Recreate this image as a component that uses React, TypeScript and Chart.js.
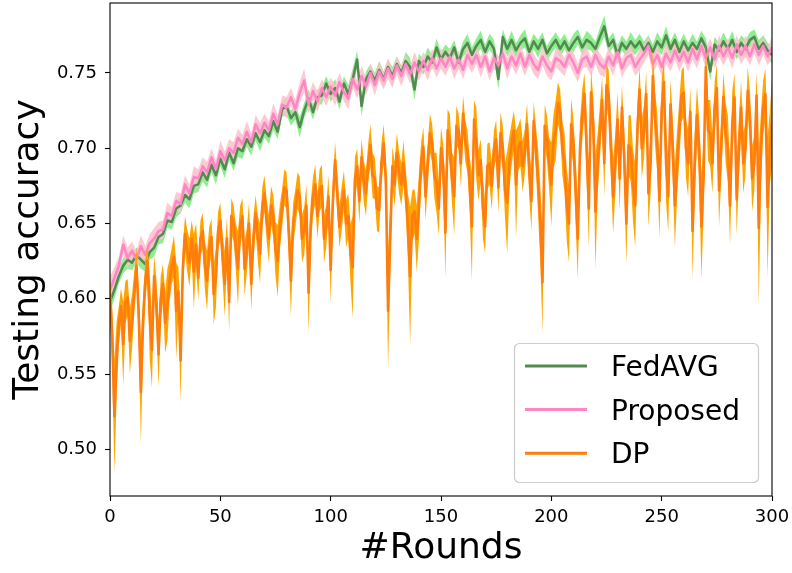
import React, { useEffect, useRef } from 'react';
import { Chart, registerables } from 'chart.js';

Chart.register(...registerables);

// ---------------- data ----------------
const roundTicks = [0, 50, 100, 150, 200, 250, 300];
const accuracyTicks = [0.5, 0.55, 0.6, 0.65, 0.7, 0.75];

// FedAVG and Proposed: one value every 2 rounds (0..300)
const baseStep = 2;
const fedavgMean = [
  0.598, 0.606, 0.615, 0.622, 0.626, 0.624, 0.629, 0.626, 0.623, 0.631,
  0.634, 0.641, 0.643, 0.652, 0.651, 0.660, 0.662, 0.669, 0.666, 0.675,
  0.676, 0.684, 0.679, 0.689, 0.682, 0.693, 0.686, 0.697, 0.690, 0.700,
  0.698, 0.706, 0.701, 0.710, 0.704, 0.712, 0.708, 0.718, 0.711, 0.726,
  0.728, 0.720, 0.724, 0.714, 0.725, 0.733, 0.724, 0.734, 0.735, 0.743,
  0.736, 0.740, 0.731, 0.743, 0.736, 0.746, 0.759, 0.728, 0.746, 0.751,
  0.745, 0.752, 0.746, 0.754, 0.748, 0.756, 0.750, 0.758, 0.754, 0.739,
  0.758, 0.754, 0.761, 0.757, 0.767, 0.759, 0.764, 0.760, 0.767, 0.757,
  0.766, 0.770, 0.762, 0.768, 0.772, 0.764, 0.771, 0.766, 0.746, 0.774,
  0.766, 0.772, 0.765, 0.770, 0.773, 0.764, 0.771, 0.766, 0.772, 0.763,
  0.768, 0.772, 0.766, 0.771, 0.765, 0.770, 0.774, 0.767, 0.772, 0.770,
  0.766, 0.774, 0.781, 0.768, 0.772, 0.762, 0.770, 0.766, 0.771, 0.767,
  0.771, 0.765, 0.770, 0.764, 0.771, 0.767, 0.775, 0.766, 0.772, 0.764,
  0.771, 0.765, 0.770, 0.766, 0.773, 0.767, 0.751, 0.769, 0.765, 0.771,
  0.766, 0.772, 0.764, 0.770, 0.766, 0.772, 0.774, 0.766, 0.770, 0.765,
  0.762,
];
const fedavgStd = [
  0.007, 0.006, 0.005, 0.005, 0.006, 0.005, 0.005, 0.006, 0.005, 0.005,
  0.006, 0.005, 0.006, 0.005, 0.005, 0.006, 0.005, 0.005, 0.006, 0.005,
  0.005, 0.006, 0.005, 0.005, 0.006, 0.005, 0.006, 0.005, 0.005, 0.006,
  0.005, 0.005, 0.006, 0.005, 0.006, 0.005, 0.005, 0.006, 0.005, 0.005,
  0.006, 0.005, 0.005, 0.007, 0.005, 0.006, 0.005, 0.005, 0.006, 0.005,
  0.005, 0.006, 0.005, 0.005, 0.006, 0.007, 0.006, 0.007, 0.005, 0.005,
  0.005, 0.006, 0.005, 0.005, 0.006, 0.005, 0.005, 0.006, 0.006, 0.007,
  0.005, 0.005, 0.006, 0.005, 0.006, 0.005, 0.005, 0.006, 0.005, 0.005,
  0.005, 0.006, 0.005, 0.005, 0.006, 0.005, 0.005, 0.006, 0.007, 0.005,
  0.005, 0.006, 0.005, 0.005, 0.006, 0.005, 0.005, 0.006, 0.005, 0.005,
  0.005, 0.005, 0.006, 0.005, 0.005, 0.006, 0.005, 0.005, 0.006, 0.005,
  0.005, 0.006, 0.007, 0.005, 0.005, 0.006, 0.005, 0.005, 0.006, 0.005,
  0.005, 0.006, 0.005, 0.005, 0.006, 0.005, 0.006, 0.005, 0.005, 0.006,
  0.005, 0.005, 0.006, 0.005, 0.005, 0.006, 0.006, 0.005, 0.005, 0.006,
  0.005, 0.006, 0.005, 0.005, 0.006, 0.005, 0.005, 0.006, 0.005, 0.005,
  0.006,
];
const proposedMean = [
  0.606, 0.614, 0.622, 0.636, 0.627, 0.632, 0.626, 0.635, 0.629, 0.637,
  0.640, 0.645, 0.646, 0.657, 0.655, 0.665, 0.663, 0.676, 0.670, 0.681,
  0.680, 0.688, 0.684, 0.694, 0.686, 0.698, 0.692, 0.700, 0.697, 0.707,
  0.703, 0.711, 0.704, 0.716, 0.710, 0.717, 0.712, 0.723, 0.716, 0.729,
  0.727, 0.734, 0.726, 0.737, 0.745, 0.729, 0.738, 0.731, 0.740, 0.734,
  0.741, 0.735, 0.744, 0.737, 0.733, 0.746, 0.739, 0.748, 0.741, 0.750,
  0.742, 0.751, 0.745, 0.753, 0.746, 0.755, 0.748, 0.756, 0.749, 0.757,
  0.751, 0.758, 0.752, 0.760, 0.753, 0.760, 0.754, 0.761, 0.753, 0.759,
  0.752, 0.762, 0.756, 0.762, 0.754, 0.761, 0.751, 0.760, 0.755, 0.763,
  0.753, 0.761, 0.755, 0.763, 0.754, 0.762, 0.756, 0.752, 0.761, 0.755,
  0.751, 0.760, 0.758, 0.754, 0.762, 0.757, 0.750, 0.759, 0.761, 0.754,
  0.762, 0.756, 0.753, 0.761, 0.755, 0.764, 0.753, 0.760, 0.762, 0.754,
  0.759, 0.763, 0.768, 0.756, 0.762, 0.754, 0.763, 0.757, 0.765, 0.758,
  0.764, 0.757, 0.766, 0.759, 0.768, 0.760, 0.767, 0.759, 0.768, 0.761,
  0.767, 0.760, 0.769, 0.762, 0.768, 0.761, 0.769, 0.762, 0.768, 0.761,
  0.767,
];
const proposedStd = [
  0.009, 0.007, 0.006, 0.006, 0.007, 0.006, 0.006, 0.007, 0.006, 0.006,
  0.007, 0.006, 0.006, 0.007, 0.006, 0.006, 0.007, 0.006, 0.006, 0.007,
  0.006, 0.006, 0.007, 0.006, 0.006, 0.007, 0.006, 0.006, 0.007, 0.006,
  0.006, 0.007, 0.006, 0.006, 0.007, 0.006, 0.006, 0.007, 0.006, 0.006,
  0.007, 0.006, 0.006, 0.007, 0.008, 0.006, 0.006, 0.007, 0.006, 0.006,
  0.006, 0.007, 0.006, 0.006, 0.007, 0.006, 0.006, 0.007, 0.006, 0.006,
  0.007, 0.006, 0.006, 0.007, 0.006, 0.006, 0.007, 0.006, 0.006, 0.007,
  0.006, 0.006, 0.007, 0.006, 0.006, 0.007, 0.006, 0.006, 0.007, 0.006,
  0.006, 0.007, 0.006, 0.006, 0.007, 0.006, 0.006, 0.007, 0.006, 0.006,
  0.007, 0.006, 0.006, 0.007, 0.006, 0.006, 0.007, 0.006, 0.006, 0.007,
  0.006, 0.006, 0.007, 0.006, 0.006, 0.007, 0.006, 0.006, 0.007, 0.006,
  0.006, 0.007, 0.006, 0.006, 0.007, 0.006, 0.006, 0.007, 0.006, 0.006,
  0.007, 0.006, 0.006, 0.007, 0.006, 0.006, 0.007, 0.006, 0.006, 0.007,
  0.006, 0.006, 0.007, 0.006, 0.006, 0.007, 0.006, 0.006, 0.007, 0.006,
  0.006, 0.007, 0.006, 0.006, 0.007, 0.006, 0.006, 0.007, 0.006, 0.006,
  0.007,
];

// DP: one value every round (0..300)
const dpStep = 1;
const dpMean = [
  0.603, 0.575, 0.522, 0.560, 0.582, 0.595, 0.570, 0.598, 0.601, 0.572,
  0.585, 0.604, 0.622, 0.590, 0.538, 0.585, 0.612, 0.625, 0.588, 0.566,
  0.615, 0.598, 0.563, 0.600, 0.610, 0.584, 0.596, 0.612, 0.622, 0.628,
  0.592, 0.605, 0.559, 0.620, 0.643, 0.632, 0.624, 0.640, 0.618, 0.636,
  0.614, 0.640, 0.645, 0.622, 0.612, 0.634, 0.641, 0.603, 0.614, 0.645,
  0.652, 0.628, 0.610, 0.640, 0.598, 0.655, 0.650, 0.635, 0.620, 0.648,
  0.655, 0.620, 0.632, 0.650, 0.610, 0.640, 0.657, 0.640, 0.630, 0.661,
  0.670, 0.652, 0.640, 0.662, 0.655, 0.633, 0.625, 0.648, 0.660, 0.674,
  0.672, 0.645, 0.612, 0.650, 0.660, 0.672, 0.668, 0.640, 0.645, 0.662,
  0.604, 0.650, 0.668, 0.676, 0.655, 0.672, 0.675, 0.640, 0.648, 0.668,
  0.619, 0.665, 0.692, 0.670, 0.648, 0.660, 0.672, 0.650, 0.655, 0.630,
  0.621, 0.680, 0.688, 0.665, 0.694, 0.678, 0.670, 0.690, 0.702, 0.682,
  0.680, 0.660, 0.659, 0.690, 0.703, 0.680, 0.592, 0.640, 0.688, 0.676,
  0.697, 0.684, 0.676, 0.690, 0.672, 0.648, 0.615, 0.655, 0.658, 0.640,
  0.661, 0.690, 0.701, 0.668, 0.690, 0.710, 0.703, 0.682, 0.677, 0.660,
  0.700, 0.688, 0.644, 0.712, 0.705, 0.680, 0.668, 0.715, 0.711, 0.690,
  0.723, 0.705, 0.698, 0.676, 0.648, 0.719, 0.703, 0.682, 0.692, 0.660,
  0.648, 0.688, 0.690, 0.675, 0.699, 0.706, 0.674, 0.710, 0.700, 0.672,
  0.664, 0.690, 0.703, 0.712, 0.676, 0.700, 0.704, 0.688, 0.698, 0.716,
  0.684, 0.665, 0.718, 0.700, 0.678, 0.650, 0.611, 0.715, 0.707, 0.690,
  0.676, 0.705, 0.712, 0.730, 0.724, 0.700, 0.690, 0.662, 0.650, 0.716,
  0.704, 0.672, 0.640, 0.700, 0.722, 0.736, 0.700, 0.660, 0.737, 0.716,
  0.658, 0.690, 0.710, 0.732, 0.690, 0.742, 0.735, 0.700, 0.668, 0.690,
  0.719, 0.680, 0.727, 0.695, 0.650, 0.702, 0.700, 0.676, 0.662, 0.712,
  0.739, 0.700, 0.711, 0.736, 0.670, 0.690, 0.748, 0.720, 0.704, 0.665,
  0.726, 0.744, 0.690, 0.668, 0.729, 0.700, 0.662, 0.690, 0.712, 0.735,
  0.737, 0.700, 0.690, 0.724, 0.645, 0.690, 0.722, 0.700, 0.648, 0.680,
  0.754, 0.712, 0.710, 0.690, 0.727, 0.740, 0.672, 0.700, 0.734, 0.710,
  0.700, 0.662, 0.716, 0.734, 0.666, 0.700, 0.727, 0.690, 0.700, 0.738,
  0.721, 0.680, 0.690, 0.735, 0.647, 0.700, 0.727, 0.736, 0.661, 0.700,
  0.717,
];
const dpStd = [
  0.012, 0.020, 0.038, 0.025, 0.013, 0.012, 0.028, 0.014, 0.012, 0.022,
  0.018, 0.014, 0.012, 0.016, 0.035, 0.016, 0.013, 0.012, 0.028, 0.025,
  0.014, 0.016, 0.022, 0.015, 0.013, 0.020, 0.024, 0.014, 0.012, 0.014,
  0.032, 0.016, 0.028, 0.016, 0.012, 0.014, 0.016, 0.012, 0.025, 0.014,
  0.015, 0.012, 0.012, 0.016, 0.020, 0.014, 0.012, 0.020, 0.020, 0.013,
  0.012, 0.015, 0.022, 0.014, 0.020, 0.012, 0.012, 0.015, 0.025, 0.014,
  0.012, 0.018, 0.015, 0.014, 0.018, 0.014, 0.012, 0.015, 0.020, 0.013,
  0.012, 0.014, 0.016, 0.013, 0.014, 0.018, 0.024, 0.015, 0.013, 0.012,
  0.012, 0.016, 0.024, 0.014, 0.013, 0.012, 0.013, 0.016, 0.016, 0.014,
  0.027, 0.015, 0.013, 0.013, 0.015, 0.014, 0.014, 0.016, 0.014, 0.014,
  0.022, 0.014, 0.012, 0.014, 0.014, 0.015, 0.013, 0.016, 0.015, 0.020,
  0.034, 0.014, 0.012, 0.015, 0.012, 0.014, 0.015, 0.013, 0.014, 0.015,
  0.014, 0.015, 0.015, 0.013, 0.013, 0.015, 0.040, 0.022, 0.013, 0.015,
  0.013, 0.014, 0.014, 0.015, 0.015, 0.022, 0.046, 0.017, 0.015, 0.022,
  0.022, 0.014, 0.013, 0.016, 0.014, 0.013, 0.013, 0.015, 0.020, 0.018,
  0.014, 0.015, 0.030, 0.014, 0.018, 0.017, 0.026, 0.013, 0.012, 0.016,
  0.012, 0.014, 0.014, 0.018, 0.036, 0.013, 0.024, 0.017, 0.014, 0.020,
  0.018, 0.015, 0.014, 0.016, 0.013, 0.013, 0.017, 0.014, 0.015, 0.018,
  0.034, 0.018, 0.014, 0.013, 0.036, 0.015, 0.016, 0.017, 0.015, 0.014,
  0.017, 0.020, 0.013, 0.015, 0.022, 0.025, 0.034, 0.014, 0.015, 0.017,
  0.028, 0.018, 0.020, 0.014, 0.015, 0.018, 0.020, 0.024, 0.026, 0.017,
  0.016, 0.022, 0.027, 0.018, 0.017, 0.014, 0.022, 0.026, 0.015, 0.018,
  0.038, 0.020, 0.018, 0.015, 0.022, 0.014, 0.017, 0.020, 0.025, 0.020,
  0.018, 0.022, 0.015, 0.018, 0.027, 0.020, 0.022, 0.024, 0.028, 0.018,
  0.015, 0.020, 0.018, 0.015, 0.022, 0.020, 0.017, 0.018, 0.020, 0.025,
  0.020, 0.015, 0.026, 0.024, 0.017, 0.020, 0.028, 0.022, 0.020, 0.017,
  0.017, 0.020, 0.022, 0.017, 0.032, 0.022, 0.019, 0.020, 0.035, 0.024,
  0.017, 0.020, 0.022, 0.020, 0.017, 0.016, 0.024, 0.020, 0.016, 0.020,
  0.022, 0.026, 0.022, 0.016, 0.024, 0.020, 0.018, 0.020, 0.018, 0.016,
  0.017, 0.022, 0.018, 0.016, 0.052, 0.024, 0.018, 0.017, 0.047, 0.024,
  0.030,
];

// ---------------- styles ----------------
const FONT = "'DejaVu Sans', sans-serif";
const W = 792;
const H = 573;
const FED_LINE = '#528b52';
const FED_BAND = '#90ee90';
const PROP_LINE = '#ff85c6';
const PROP_BAND = 'rgba(255,192,203,0.85)';
const DP_LINE = '#ff7d0d';
const DP_BAND = '#ffa500';

const pts = (vals: number[], step: number) => vals.map((v, i) => ({ x: i * step, y: v }));
const shift = (vals: number[], sd: number[], sign: number) => vals.map((v, i) => v + sign * sd[i]);

const lineDs = (label: string, data: any[], color: string, width: number, order: number) => ({
  label, data, borderColor: color, borderWidth: width, backgroundColor: color,
  pointRadius: 0, tension: 0, fill: false, order, borderJoinStyle: 'round' as const,
});
const bandDs = (label: string, data: any[], color: string, fill: any, order: number) => ({
  label, data, borderColor: 'rgba(0,0,0,0)', borderWidth: 0, backgroundColor: color,
  pointRadius: 0, tension: 0, fill, order,
});

const legendItems = [
  { label: 'FedAVG', color: FED_LINE },
  { label: 'Proposed', color: PROP_LINE },
  { label: 'DP', color: DP_LINE },
];

const framePlugin = {
  id: 'mplFrameLegend',
  afterDraw(chart: any) {
    const { ctx, chartArea } = chart;
    const { left, top, right, bottom } = chartArea;
    ctx.save();
    ctx.strokeStyle = '#000';
    ctx.lineWidth = 1.1;
    ctx.strokeRect(left, top, right - left, bottom - top);

    const bw = 244, bh = 139;
    const bx = right - 14 - bw, by = bottom - 14 - bh;
    ctx.beginPath();
    (ctx as any).roundRect(bx + 0.5, by + 0.5, bw, bh, 5);
    ctx.fillStyle = 'rgba(255,255,255,0.8)';
    ctx.fill();
    ctx.strokeStyle = '#cccccc';
    ctx.lineWidth = 1.2;
    ctx.stroke();

    ctx.font = `28px ${FONT}`;
    ctx.textBaseline = 'alphabetic';
    ctx.textAlign = 'left';
    legendItems.forEach((it, i) => {
      const y = by + 23 + i * 43.6;
      ctx.strokeStyle = it.color;
      ctx.lineWidth = 3;
      ctx.beginPath();
      ctx.moveTo(bx + 11, y);
      ctx.lineTo(bx + 73, y);
      ctx.stroke();
      ctx.fillStyle = '#000';
      ctx.fillText(it.label, bx + 97, y + 10);
    });
    ctx.restore();
  },
};

export default function App() {
  const ref = useRef<HTMLCanvasElement>(null);

  useEffect(() => {
    if (!ref.current) return;
    const datasets: any[] = [
      lineDs('DP', pts(dpMean, dpStep), DP_LINE, 2.6, 0),
      bandDs('DP upper', pts(shift(dpMean, dpStd, 1), dpStep), DP_BAND, '+1', 1),
      bandDs('DP lower', pts(shift(dpMean, dpStd, -1), dpStep), DP_BAND, false, 1),
      lineDs('Proposed', pts(proposedMean, baseStep), PROP_LINE, 2.5, 2),
      lineDs('FedAVG', pts(fedavgMean, baseStep), FED_LINE, 2.5, 3),
      bandDs('Proposed upper', pts(shift(proposedMean, proposedStd, 1), baseStep), PROP_BAND, '+1', 4),
      bandDs('Proposed lower', pts(shift(proposedMean, proposedStd, -1), baseStep), PROP_BAND, false, 4),
      bandDs('FedAVG upper', pts(shift(fedavgMean, fedavgStd, 1), baseStep), FED_BAND, '+1', 5),
      bandDs('FedAVG lower', pts(shift(fedavgMean, fedavgStd, -1), baseStep), FED_BAND, false, 5),
    ];

    const chart = new Chart(ref.current, {
      type: 'line',
      data: { datasets },
      plugins: [framePlugin],
      options: {
        animation: false,
        responsive: false,
        devicePixelRatio: 1,
        parsing: false,
        normalized: true,
        events: [],
        layout: { padding: { left: 0, top: 3, right: 20, bottom: 0 } },
        plugins: {
          legend: { display: false },
          tooltip: { enabled: false },
          title: { display: false },
          filler: { propagate: false },
        },
        scales: {
          x: {
            type: 'linear',
            min: 0,
            max: 300,
            afterBuildTicks: (s: any) => { s.ticks = roundTicks.map((v) => ({ value: v })); },
            afterFit: (s: any) => { s.height = 77; s.paddingLeft = 0; s.paddingRight = 0; },
            ticks: {
              font: { family: FONT, size: 18 },
              color: '#000',
              padding: 6,
              maxRotation: 0,
              autoSkip: false,
              callback: (v: any) => String(v),
            },
            grid: { display: true, drawOnChartArea: false, drawTicks: true, tickLength: 5, tickWidth: 1.1, color: '#000', tickColor: '#000' },
            border: { display: false },
            title: { display: true, text: '#Rounds', color: '#000', font: { family: FONT, size: 36 }, padding: { top: 0, bottom: 3 } },
          },
          y: {
            type: 'linear',
            min: 0.469,
            max: 0.7965,
            afterBuildTicks: (s: any) => { s.ticks = accuracyTicks.map((v) => ({ value: v })); },
            afterFit: (s: any) => { s.width = 110; s.paddingTop = 0; s.paddingBottom = 0; },
            ticks: {
              font: { family: FONT, size: 18 },
              color: '#000',
              padding: 8,
              autoSkip: false,
              callback: (v: any) => Number(v).toFixed(2),
            },
            grid: { display: true, drawOnChartArea: false, drawTicks: true, tickLength: 5, tickWidth: 1.1, color: '#000', tickColor: '#000' },
            border: { display: false },
            title: { display: true, text: 'Testing accuracy', color: '#000', font: { family: FONT, size: 36 }, padding: { top: 7, bottom: 0 } },
          },
        },
      } as any,
    });
    return () => chart.destroy();
  }, []);

  return (
    <div style={{ position: 'absolute', left: 0, top: 0, width: W, height: H, background: '#fff' }}>
      <canvas ref={ref} width={W} height={H} style={{ display: 'block', width: W, height: H }} />
    </div>
  );
}
